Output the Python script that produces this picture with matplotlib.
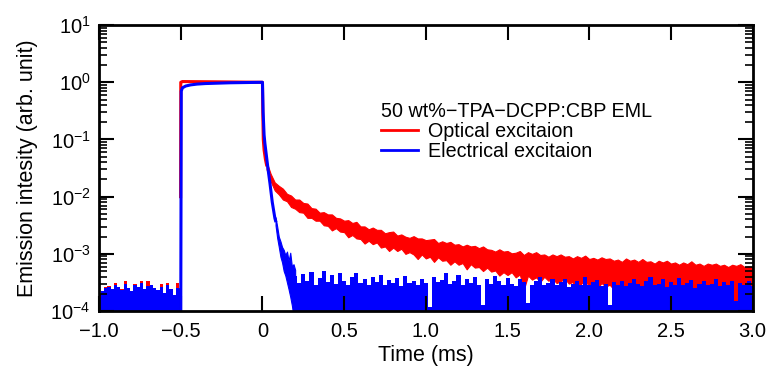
import numpy as np
import matplotlib
matplotlib.use("Agg")
import matplotlib.pyplot as plt
from matplotlib.lines import Line2D
from matplotlib.ticker import LogLocator, NullFormatter, FixedLocator, NullLocator

plt.rcParams['font.family'] = ['Liberation Sans', 'DejaVu Sans']

# ---- data ----
# baseline noise before the pulse (tops of the noise, units of 1e-4)
pre_t = np.linspace(-1.0, -0.5, 26)
blue_pre_top = [1.7, 2.2, 2.5, 2.6, 2.4, 2.9, 2.6, 2.3, 3.0, 2.5, 2.2, 2.8, 2.6,
                3.1, 2.4, 2.7, 2.9, 2.5, 2.3, 2.6, 2.1, 2.8, 2.4, 1.9, 2.5, 2.4]
red_pre_top = [2.0, 2.1, 2.6, 2.7, 2.4, 3.1, 2.6, 2.4, 3.4, 2.5, 2.2, 3.0, 2.6,
               3.3, 2.4, 3.3, 2.9, 2.5, 2.3, 3.0, 2.1, 3.1, 2.4, 1.6, 3.1, 2.5]

# pulse and fast part of the decay
red_head_t = [-0.501, -0.5, -0.49, -0.3, 0.0, 0.002, 0.005, 0.01, 0.018, 0.025]
red_head_i = [1e-2, 1.0, 1.03, 1.02, 1.0, 0.3, 0.1, 0.065, 0.045, 0.036]
blue_head_t = [-0.5, -0.497, -0.49, -0.47, -0.44, -0.4, -0.35, -0.3, -0.2,
               0.0, 0.004, 0.01, 0.015, 0.035, 0.046, 0.06, 0.076, 0.08]
blue_head_i = [1e-4, 0.7, 0.8, 0.86, 0.9, 0.93, 0.95, 0.96, 0.98,
               1.0, 0.3, 0.12, 0.085, 0.029, 0.017, 0.008, 0.0042, 0.0038]

# red slow decay band, log10 of upper / lower edge, t = 0.025 ... 3.0
red_band_t = np.linspace(0.025, 3.0, 120)
red_upper_log = [
    -1.39, -1.60, -1.75, -1.81, -1.86, -1.95, -1.98, -2.05, -2.05, -2.11,
    -2.12, -2.20, -2.21, -2.28, -2.27, -2.31, -2.31, -2.37, -2.38, -2.42,
    -2.41, -2.46, -2.44, -2.52, -2.52, -2.57, -2.54, -2.58, -2.58, -2.64,
    -2.62, -2.61, -2.68, -2.66, -2.70, -2.72, -2.69, -2.73, -2.73, -2.76,
    -2.75, -2.74, -2.81, -2.78, -2.81, -2.79, -2.84, -2.83, -2.87, -2.84,
    -2.87, -2.86, -2.90, -2.87, -2.92, -2.93, -2.96, -2.92, -2.96, -2.95,
    -2.99, -2.98, -2.95, -3.02, -2.97, -3.00, -2.97, -3.02, -3.01, -3.05,
    -3.01, -3.04, -3.01, -3.05, -3.04, -3.08, -3.04, -3.07, -3.03, -3.09,
    -3.07, -3.10, -3.06, -3.09, -3.08, -3.12, -3.10, -3.14, -3.08, -3.12,
    -3.10, -3.14, -3.09, -3.14, -3.13, -3.17, -3.12, -3.15, -3.12, -3.17,
    -3.15, -3.19, -3.15, -3.18, -3.13, -3.19, -3.17, -3.21, -3.17, -3.19,
    -3.17, -3.21, -3.19, -3.23, -3.19, -3.21, -3.18, -3.23, -3.22, -3.23]
red_lower_log = [
    -1.52, -1.73, -1.89, -1.96, -2.05, -2.08, -2.18, -2.21, -2.27, -2.28,
    -2.37, -2.37, -2.42, -2.42, -2.50, -2.51, -2.59, -2.55, -2.61, -2.62,
    -2.71, -2.67, -2.73, -2.74, -2.82, -2.77, -2.83, -2.80, -2.89, -2.87,
    -2.95, -2.89, -2.95, -2.91, -3.00, -2.97, -3.01, -3.09, -3.01, -3.08,
    -3.05, -3.14, -3.06, -3.12, -3.11, -3.19, -3.13, -3.19, -3.16, -3.27,
    -3.18, -3.24, -3.23, -3.30, -3.24, -3.31, -3.29, -3.38, -3.32, -3.37,
    -3.32, -3.41, -3.36, -3.62, -3.38, -3.45, -3.41, -3.49, -3.40, -3.47,
    -3.43, -3.51, -3.48, -3.43, -3.52, -3.49, -3.79, -3.52, -3.48, -3.56,
    -3.53, -3.60, -3.51, -3.57, -3.54, -3.62, -4.01, -3.58, -3.62, -4.10,
    -3.66, -3.60, -3.63, -3.58, -3.66, -3.63, -3.69, -3.63, -3.67, -3.63,
    -3.72, -3.67, -3.70, -3.64, -3.73, -3.69, -4.19, -3.73, -3.68, -3.77,
    -3.72, -3.75, -3.70, -3.78, -3.73, -4.17, -3.76, -3.71, -3.79, -3.75]

# blue tail of the decay (noisy band), log10 edges, t = 0.08 ... 0.2
blue_band_t = np.linspace(0.08, 0.2, 13)
blue_upper_log = [-2.36, -2.52, -2.70, -2.78, -2.88, -2.93, -3.02, -2.96,
                  -3.12, -2.98, -3.22, -3.18, -3.28]
blue_lower_log = [-2.50, -2.72, -2.88, -3.05, -3.15, -3.30, -3.38, -3.50,
                  -3.62, -3.75, -3.90, -4.10, -4.20]

# baseline noise after the decay (tops, units of 1e-4), t = 0.2 ... 3.0
post_t = np.linspace(0.2, 3.0, 113)
blue_post_top = [
    4.1, 3.1, 4.5, 3.3, 4.9, 2.9, 3.8, 5.0, 3.2, 4.2,
    3.0, 4.6, 3.4, 2.8, 4.0, 4.7, 3.1, 3.6, 2.8, 3.9,
    3.2, 4.3, 2.9, 3.5, 3.1, 3.8, 2.7, 4.1, 3.1, 3.4,
    2.9, 3.7, 3.1, 1.2, 3.9, 3.2, 3.5, 4.6, 3.0, 3.3,
    4.2, 2.8, 3.7, 3.1, 4.0, 2.9, 1.3, 3.6, 3.0, 4.1,
    3.3, 2.8, 3.8, 3.0, 2.7, 3.6, 3.2, 1.4, 2.9, 3.4,
    3.9, 2.8, 3.1, 3.7, 2.9, 3.2, 3.6, 2.6, 3.0, 3.3,
    2.8, 4.0, 2.9, 3.2, 3.5, 2.7, 3.0, 1.3, 3.2, 2.9,
    3.3, 2.7, 3.1, 3.7, 3.0, 2.7, 3.4, 3.9, 2.8, 3.0,
    3.6, 2.6, 3.2, 2.9, 3.8, 2.8, 3.1, 3.5, 2.5, 3.0,
    3.3, 2.8, 3.0, 3.6, 2.7, 3.2, 2.9, 3.4, 1.5, 3.1,
    2.8, 3.3, 2.7]

legend_title = "50 wt%\u2212TPA\u2212DCPP:CBP EML"
labels = ["Optical excitaion", "Electrical excitaion"]
RED = "#ff0000"
BLUE = "#0000ff"

# ---- figure ----
fig = plt.figure(figsize=(7.68, 3.69), dpi=100)
ax = fig.add_axes([0.129, 0.157, 0.851, 0.775])
ax.set_yscale("log")
floor = 1e-6

# optical (red)
ax.fill_between(pre_t, floor, np.array(red_pre_top) * 1e-4, step="mid",
                color=RED, lw=0)
ax.plot(red_head_t, red_head_i, color=RED, lw=2.2, solid_joinstyle="round")
ax.fill_between(red_band_t, 10 ** np.array(red_lower_log),
                10 ** np.array(red_upper_log), color=RED, lw=0.8,
                edgecolor=RED)

# electrical (blue)
ax.fill_between(pre_t, floor, np.array(blue_pre_top) * 1e-4, step="mid",
                color=BLUE, lw=0)
ax.plot(blue_head_t, blue_head_i, color=BLUE, lw=2.2, solid_joinstyle="round")
ax.fill_between(blue_band_t, 10 ** np.array(blue_lower_log),
                10 ** np.array(blue_upper_log), color=BLUE, lw=0.8,
                edgecolor=BLUE)
ax.fill_between(post_t, floor, np.array(blue_post_top) * 1e-4, step="mid",
                color=BLUE, lw=0)

ax.set_xlim(-1.0, 3.0)
ax.set_ylim(1e-4, 1e1)

ax.xaxis.set_major_locator(FixedLocator(np.arange(-1.0, 3.01, 0.5)))
ax.xaxis.set_minor_locator(NullLocator())
ax.set_xticklabels(["\u22121.0", "\u22120.5", "0", "0.5", "1.0", "1.5",
                    "2.0", "2.5", "3.0"],
                   family=["Liberation Sans Narrow", "Liberation Sans",
                           "DejaVu Sans"], fontsize=14.5)
ax.yaxis.set_major_locator(LogLocator(base=10, numticks=10))
ax.yaxis.set_minor_locator(LogLocator(base=10, subs=np.arange(2, 10),
                                      numticks=20))
ax.yaxis.set_minor_formatter(NullFormatter())
for lbl in ax.get_yticklabels():
    lbl.set_fontsize(14.5)

ax.tick_params(which="major", direction="in", top=True, right=True,
               width=1.5, labelsize=14.5)
ax.tick_params(axis="x", which="major", length=11, pad=8)
ax.tick_params(axis="y", which="major", length=10.5, pad=6)
ax.tick_params(axis="y", which="minor", direction="in", right=True,
               width=1.2, length=5.5)
for s in ax.spines.values():
    s.set_linewidth(2)

ax.set_xlabel("Time (ms)", fontsize=15.5, labelpad=3)
ax.set_ylabel("Emission intesity (arb. unit)", fontsize=15.5, labelpad=9)

handles = [Line2D([], [], color=RED, lw=2), Line2D([], [], color=BLUE, lw=2)]
leg = ax.legend(handles, labels, title=legend_title, loc="upper left",
                bbox_to_anchor=(0.41, 0.78), frameon=False, fontsize=14.2,
                title_fontsize=14.2, handlelength=1.9, handletextpad=0.5,
                labelspacing=0.05, borderpad=0.2, alignment="left")

fig.savefig("out.png", dpi=100)
